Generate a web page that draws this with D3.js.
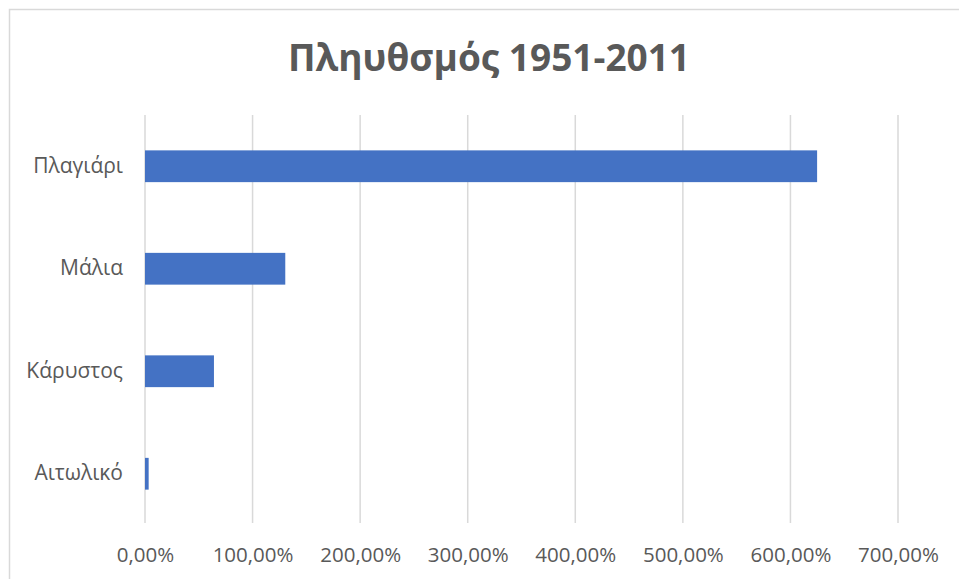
<!DOCTYPE html>
<html>
<head>
<meta charset="utf-8">
<script src="https://cdn.jsdelivr.net/npm/d3@7"></script>
<style>
	body { margin: 0; background: #fff; }
	#chart text { font-family: "Open Sans", "Noto Sans", sans-serif; fill: #595959; }
</style>
</head>
<body>
<div id="chart"></div>
<script>
// data
const title = "Πληυθσμός 1951-2011";
const categories = ["Πλαγιάρι", "Μάλια", "Κάρυστος", "Αιτωλικό"];
const values = [6.248, 1.304, 0.641, 0.034];
const ticks = [0, 1, 2, 3, 4, 5, 6, 7];

const width = 959, height = 579;
const margin = { top: 115, right: 61, bottom: 54, left: 145 };

const svg = d3.select("#chart").append("svg")
	.attr("width", width)
	.attr("height", height);

// chart frame
svg.append("rect")
	.attr("x", 9.5).attr("y", 9.5)
	.attr("width", width + 20).attr("height", height + 20)
	.style("fill", "none")
	.style("stroke", "#d9d9d9")
	.style("stroke-width", 1.5);

// scales
const x = d3.scaleLinear().domain([0, 7]).range([margin.left, width - margin.right]);
const y = d3.scaleBand().domain(categories)
	.range([margin.top, height - margin.bottom])
	.paddingInner(0.69).paddingOuter(0.345);

// gridlines
svg.append("g")
	.selectAll("line")
	.data(ticks)
	.enter().append("line")
	.attr("x1", d => x(d)).attr("x2", d => x(d))
	.attr("y1", margin.top).attr("y2", height - margin.bottom - 2)
	.style("stroke", "#d9d9d9")
	.style("stroke-width", 1.5);

// bars
svg.append("g")
	.selectAll("rect")
	.data(values)
	.enter().append("rect")
	.attr("x", x(0))
	.attr("y", (d, i) => y(categories[i]))
	.attr("width", d => x(d) - x(0))
	.attr("height", y.bandwidth())
	.style("fill", "#4472c4");

// x axis labels
const fmt = d => d3.format(".2f")(d * 100).replace(".", ",") + "%";
const xAxis = svg.append("g")
	.attr("transform", "translate(0," + (height - margin.bottom) + ")")
	.call(d3.axisBottom(x).tickValues(ticks).tickFormat(fmt).tickSize(0).tickPadding(22));
xAxis.select(".domain").remove();
xAxis.selectAll("text")
	.style("font-size", "20.5px");

// y axis labels
const yAxis = svg.append("g")
	.attr("transform", "translate(" + (margin.left - 22) + ",0)")
	.call(d3.axisLeft(y).tickSize(0).tickPadding(0));
yAxis.select(".domain").remove();
yAxis.selectAll("text")
	.style("font-size", "21px");

// title
svg.append("text")
	.attr("x", 489)
	.attr("y", 71)
	.attr("text-anchor", "middle")
	.style("font-size", "37px")
	.style("font-weight", "bold")
	.text(title);
</script>
</body>
</html>
